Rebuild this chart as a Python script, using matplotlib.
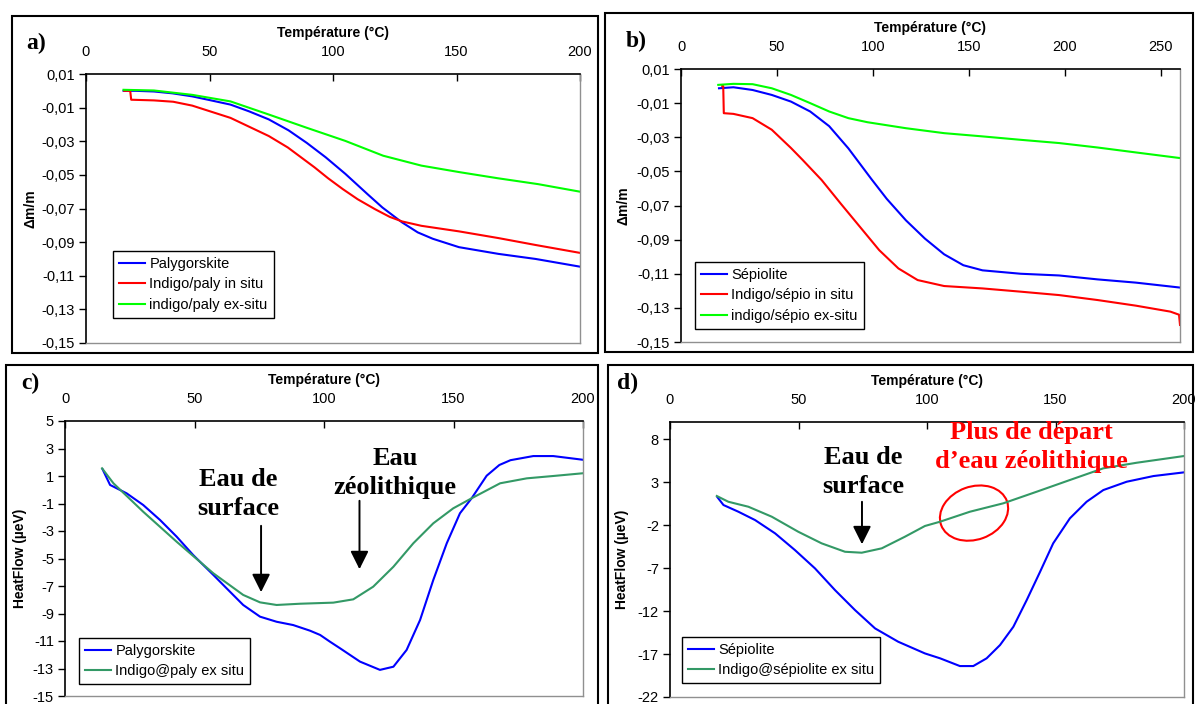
import matplotlib
matplotlib.use("Agg")
import matplotlib.pyplot as plt
from matplotlib.patches import Rectangle, Ellipse
from matplotlib.ticker import FuncFormatter
from matplotlib.transforms import ScaledTranslation

plt.rcParams['font.family'] = ['Liberation Sans', 'DejaVu Sans']
plt.rcParams['axes.unicode_minus'] = False

# ---- panel a : TGA palygorskite ----
a_paly_x = [15.2, 20, 27.5, 35, 43, 50, 58.5, 66, 74, 82, 89.4, 97, 105, 114, 120, 128, 134.3, 140.4, 151, 167, 182, 200]
a_paly_y = [0.0, 0.0, -0.0004, -0.0015, -0.0033, -0.0055, -0.0082, -0.0122, -0.017, -0.0235, -0.031, -0.0395,
            -0.0494, -0.0615, -0.0694, -0.0783, -0.0842, -0.088, -0.093, -0.097, -0.100, -0.1046]
a_insitu_x = [15.5, 17.9, 18.3, 27.5, 35.3, 43, 58.5, 74, 81.7, 92.5, 98, 104, 110, 117, 123, 128, 135.8, 151, 167,
              182, 200]
a_insitu_y = [0.0, 0.0, -0.0053, -0.0057, -0.0065, -0.0088, -0.0161, -0.0269, -0.0337, -0.0455, -0.052, -0.0585,
              -0.0645, -0.0704, -0.075, -0.0777, -0.0803, -0.0836, -0.0876, -0.0917, -0.0964]
a_exsitu_x = [15.2, 27.5, 43, 58.5, 74, 89.4, 105, 120.3, 135.8, 151.3, 166.7, 183, 200]
a_exsitu_y = [0.0006, 0.0002, -0.0024, -0.0063, -0.0141, -0.022, -0.0298, -0.0386, -0.0445, -0.0484, -0.052,
              -0.0555, -0.060]

# ---- panel b : TGA sepiolite ----
b_sep_x = [19.8, 27.3, 37.3, 47.3, 57.3, 67.3, 77.2, 87.2, 99.2, 107.2, 117.2, 127.1, 137.1, 147.1, 157.1, 177,
           197, 217, 237, 260]
b_sep_y = [-0.0013, -0.0007, -0.0023, -0.0052, -0.0091, -0.0149, -0.0235, -0.0365, -0.0545, -0.0661, -0.0787,
           -0.0894, -0.0986, -0.105, -0.108, -0.110, -0.111, -0.1133, -0.1152, -0.1181]
b_insitu_x = [21.5, 22, 22.3, 27.3, 37.3, 47.3, 57.3, 63.3, 73.3, 83.3, 93.3, 103.3, 113.3, 123.3, 137.1, 157.1,
              177, 197, 217, 237, 255, 259.5, 260]
b_insitu_y = [0.0, 0.0, -0.0159, -0.0163, -0.0188, -0.0256, -0.0363, -0.0432, -0.0551, -0.069, -0.0826, -0.0962,
              -0.1069, -0.1137, -0.1172, -0.1186, -0.1205, -0.1225, -0.1254, -0.1287, -0.1322, -0.134, -0.140]
b_exsitu_x = [19.4, 27.3, 37.3, 47.3, 57.3, 67.3, 77.2, 87.2, 97.2, 117.2, 137.1, 157.1, 177, 197, 217, 237, 260]
b_exsitu_y = [0.0007, 0.0013, 0.0011, -0.0013, -0.0052, -0.010, -0.0149, -0.0188, -0.0212, -0.0247, -0.0276,
              -0.0295, -0.0315, -0.0334, -0.036, -0.0389, -0.0422]

# ---- panel c : heat flow palygorskite ----
c_paly_x = [14.5, 17.4, 23.8, 30.2, 36.7, 43.1, 49.5, 57.3, 62.4, 68.8, 75.3, 81.7, 88.1, 94.6, 98.5, 102.3,
            106.2, 113.9, 121.6, 126.8, 131.9, 137.1, 142.2, 147.4, 152.5, 157, 162.8, 167.7, 172, 180.8, 188.5,
            200]
c_paly_y = [1.49, 0.35, -0.26, -1.11, -2.2, -3.41, -4.75, -6.2, -7.17, -8.38, -9.23, -9.6, -9.84, -10.25, -10.56,
            -11.05, -11.53, -12.5, -13.1, -12.87, -11.65, -9.47, -6.56, -3.89, -1.71, -0.62, 1.02, 1.8, 2.15, 2.45,
            2.45, 2.18]
c_indigo_x = [14.3, 18.7, 30.2, 43.1, 57.3, 68.8, 75.3, 81.7, 90.7, 103.6, 111.3, 119, 126.8, 134.5, 142.2, 149.9,
              157, 168, 178.3, 188.5, 200]
c_indigo_y = [1.56, 0.47, -1.6, -3.78, -6.08, -7.65, -8.19, -8.38, -8.29, -8.21, -7.97, -7.05, -5.6, -3.89, -2.44,
              -1.35, -0.62, 0.47, 0.83, 1.0, 1.2]

# ---- panel d : heat flow sepiolite ----
d_sep_x = [18.5, 20.8, 26.6, 33.1, 40.9, 48.6, 56.4, 64.2, 72, 79.8, 88.8, 99.2, 105.1, 112.8, 118, 123.2, 128.4,
           133.6, 138.8, 144, 149.1, 155.6, 162.1, 168.6, 177.7, 188.1, 200]
d_sep_y = [1.23, 0.34, -0.44, -1.41, -2.96, -4.9, -7.03, -9.56, -11.89, -14.02, -15.57, -16.93, -17.5, -18.4, -18.4,
           -17.5, -15.96, -13.83, -10.72, -7.43, -4.12, -1.21, 0.72, 2.08, 3.05, 3.71, 4.14]
d_indigo_x = [18.2, 22.7, 30.5, 39.6, 49.9, 59, 68.1, 74.6, 82.4, 91.4, 99.2, 105.1, 116.7, 129.7, 142.7, 155.6,
              168.6, 181.6, 200]
d_indigo_y = [1.39, 0.72, 0.14, -1.02, -2.77, -4.12, -5.1, -5.21, -4.7, -3.35, -2.1, -1.6, -0.44, 0.54, 1.89, 3.25,
              4.61, 5.26, 6.04]

W, H = 1196, 704
fig = plt.figure(figsize=(W / 100, H / 100), dpi=100)


def add_ax(l, r, t, b):
    return fig.add_axes([l / W, 1 - b / H, (r - l) / W, (b - t) / H])


def comma2(v, pos):
    return f"{v:.2f}".replace('.', ',')


def integer(v, pos):
    return f"{v:.0f}"


def style(ax, xlim, ylim, xticks, yticks, fmt, ylabel, ylab_px):
    ax.set_xlim(xlim)
    ax.set_ylim(ylim)
    ax.xaxis.tick_top()
    ax.xaxis.set_label_position('top')
    ax.set_xticks(xticks)
    ax.set_yticks(yticks)
    ax.yaxis.set_major_formatter(FuncFormatter(fmt))
    ax.tick_params(axis='x', direction='in', length=5, width=1, pad=10.5, labelsize=10.5)
    ax.tick_params(axis='y', direction='out', length=5, width=1, pad=3, labelsize=10.5)
    ax.set_xlabel('Température (°C)', fontweight='bold', fontsize=10, labelpad=6)
    ax.set_ylabel(ylabel, fontweight='bold', fontsize=10)
    bbox = ax.get_position()
    ax.yaxis.set_label_coords(-ylab_px / (bbox.width * W), 0.5)
    for s in ['left', 'top']:
        ax.spines[s].set_color('black')
        ax.spines[s].set_linewidth(1.2)
    for s in ['right', 'bottom']:
        ax.spines[s].set_color('#909090')
        ax.spines[s].set_linewidth(1)


def legend(ax, left_px, top_px):
    bbox = ax.get_position()
    x0 = (left_px / W - bbox.x0) / bbox.width
    y0 = ((1 - top_px / H) - bbox.y0) / bbox.height
    ax.legend(loc='upper left', bbox_to_anchor=(x0, y0), borderaxespad=0, frameon=True, fancybox=False,
              edgecolor='black', framealpha=1, fontsize=10.5, handlelength=1.8, handletextpad=0.3,
              labelspacing=0.45, borderpad=0.4)


lw = 1.5
# panel a
ax_a = add_ax(86, 580, 74, 343)
ax_a.plot(a_paly_x, a_paly_y, color='#0000FF', lw=lw, label='Palygorskite')
ax_a.plot(a_insitu_x, a_insitu_y, color='#FF0000', lw=lw, label='Indigo/paly in situ')
ax_a.plot(a_exsitu_x, a_exsitu_y, color='#00FF00', lw=lw, label='indigo/paly ex-situ')
style(ax_a, (0, 200), (-0.15, 0.01), range(0, 201, 50), [0.01 - 0.02 * i for i in range(9)], comma2,
      'Δm/m', 48)
legend(ax_a, 113, 251)

# panel b
ax_b = add_ax(681, 1180, 69, 342)
ax_b.plot(b_sep_x, b_sep_y, color='#0000FF', lw=lw, label='Sépiolite')
ax_b.plot(b_insitu_x, b_insitu_y, color='#FF0000', lw=lw, label='Indigo/sépio in situ')
ax_b.plot(b_exsitu_x, b_exsitu_y, color='#00FF00', lw=lw, label='indigo/sépio ex-situ')
style(ax_b, (0, 260), (-0.15, 0.01), range(0, 251, 50), [0.01 - 0.02 * i for i in range(9)], comma2,
      'Δm/m', 51)
legend(ax_b, 695, 262)

# panel c
ax_c = add_ax(65, 583, 421, 696)
ax_c.plot(c_paly_x, c_paly_y, color='#0000FF', lw=lw, label='Palygorskite')
ax_c.plot(c_indigo_x, c_indigo_y, color='#339966', lw=lw, label='Indigo@paly ex situ')
style(ax_c, (0, 200), (-15, 5), range(0, 201, 50), range(5, -16, -2), integer, 'HeatFlow (µeV)', 38)
legend(ax_c, 79, 638)

# panel d
ax_d = add_ax(670, 1184, 422, 697)
ax_d.plot(d_sep_x, d_sep_y, color='#0000FF', lw=lw, label='Sépiolite')
ax_d.plot(d_indigo_x, d_indigo_y, color='#339966', lw=lw, label='Indigo@sépiolite ex situ')
style(ax_d, (0, 200), (-22, 10), range(0, 201, 50), range(8, -23, -5), integer, 'HeatFlow (µeV)', 41)
legend(ax_d, 682, 637)

# annotations
serif = dict(family=['Liberation Serif', 'DejaVu Serif'], fontweight='bold', fontsize=19,
             ha='center', va='center', linespacing=1.35)
arrow = dict(arrowstyle='-|>,head_width=0.55,head_length=1.1', color='black', lw=1.4)
ax_c.text(66.8, -0.3, 'Eau de\nsurface', **serif)
ax_c.annotate('', xy=(75.7, -7.65), xytext=(75.7, -2.42), arrowprops=arrow)
ax_c.text(127.4, 1.22, 'Eau\nzéolithique', **serif)
ax_c.annotate('', xy=(113.7, -5.98), xytext=(113.7, -0.6), arrowprops=arrow)

ax_d.text(75.1, 4.18, 'Eau de\nsurface', **serif)
ax_d.annotate('', xy=(74.7, -4.55), xytext=(74.7, 1.04), arrowprops=arrow)
ax_d.text(140.5, 7.09, 'Plus de départ\nd\u2019eau zéolithique', color='#FF0000', **serif)
ell_tr = fig.dpi_scale_trans + ScaledTranslation(118.3, -0.6, ax_d.transData)
ax_d.add_patch(Ellipse((0, 0), 0.70, 0.53, angle=20, fill=False, ec='#FF0000', lw=1.5, transform=ell_tr,
                       clip_on=False))

# panel letters
for letter, xp, yp in [('a)', 36, 43), ('b)', 636, 41), ('c)', 30, 383), ('d)', 628, 383)]:
    fig.text(xp / W, 1 - yp / H, letter, family=['Liberation Serif', 'DejaVu Serif'], fontweight='bold',
             fontsize=17, ha='center', va='center')

# outer frames
for x1, y1, x2, y2 in [(12, 16, 598, 353), (605, 13, 1193, 352), (6, 365, 598, 710), (608, 365, 1193, 710)]:
    fig.add_artist(Rectangle((x1 / W, 1 - y2 / H), (x2 - x1) / W, (y2 - y1) / H, transform=fig.transFigure,
                             fill=False, ec='black', lw=1.5))

fig.savefig('out.png', dpi=100)
